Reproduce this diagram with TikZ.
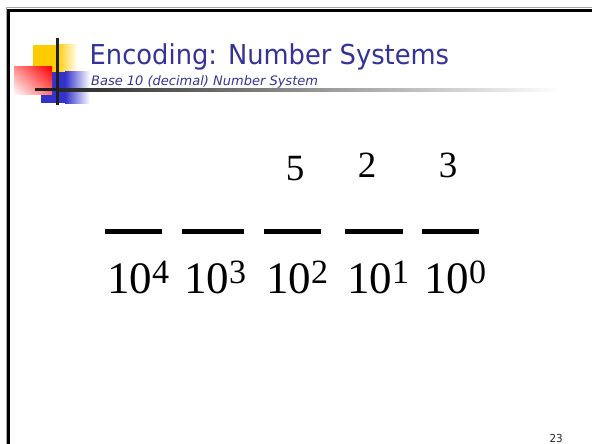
\documentclass[tikz,border=0pt]{standalone}
\usepackage{fontspec}
\setmainfont{Liberation Serif}
\setsansfont{DejaVu Sans}
\newfontfamily\slidefont[FakeStretch=0.94]{DejaVu Sans}
\usetikzlibrary{positioning,shadings}
\definecolor{titleblue}{RGB}{51,51,153}
\definecolor{logoyellow}{RGB}{255,204,0}
\definecolor{logoblue}{RGB}{51,51,204}
\pgfkeys{tikz/myblank/.style={fill=black,inner sep=0pt,minimum height=5pt}}
\pgfkeys{tikz/mydigit/.style={anchor=base,inner sep=0pt,font=\fontsize{37pt}{37pt}\selectfont}}
\pgfkeys{tikz/mypower/.style={anchor=base west,inner sep=0pt,font=\fontsize{45pt}{45pt}\selectfont}}
\newcommand*\tenpow[1]{10\raisebox{10pt}{\fontsize{34pt}{34pt}\selectfont #1}}

\begin{document}
\begin{tikzpicture}[x=1pt,y=-1pt]
\useasboundingbox[fill=white] (0,0) rectangle (592,444);

% frame
\draw[black!35, line width=1pt] (6.5,444) -- (6.5,7.5) -- (592,7.5);
\draw[line width=3pt] (8.5,444) -- (8.5,10.5) -- (592,10.5);

% logo
\fill[logoyellow] (33,45) rectangle (57,72);
\shade[left color=logoyellow, right color=white] (57,45) rectangle (78,72);
\fill[logoblue] (41,72) rectangle (65,103);
\shade[left color=logoblue, right color=white] (65,72) rectangle (90,103);
\shade[upper left=red!45, upper right=red, lower left=white, lower right=red!55] (14,67) rectangle (52,95);
\fill[black!88] (35,88.5) rectangle (57,91.5);
\shade[left color=black!85, right color=white] (57,88.5) rectangle (560,91.5);
\draw[black!88, line width=3pt] (57,38) -- (57,105);

% title
\node[anchor=base west, inner sep=0pt, text=titleblue,
  font=\slidefont\fontsize{27.4pt}{30pt}\selectfont] (title) at (89.5,65) {Encoding: Number Systems};
\node[anchor=base west, inner sep=0pt, text=titleblue,
  font=\sffamily\itshape\fontsize{13pt}{15pt}\selectfont] (subtitle) at (91,85) {Base 10 (decimal) Number System};

% blanks and place values
\foreach \e/\l/\r in {4/105/162, 3/182/244, 2/264/321, 1/345/403, 0/422/479} {
  \node[myblank, minimum width=\r pt-\l pt] (b\e) at ({(\l+\r)/2},231) {};
  \node[mypower] (p\e) at (\l+2,293) {\tenpow{\e}};
}

% digits
\node[mydigit] (d2) at (295,180) {5};
\node[mydigit] (d1) at (367,177) {2};
\node[mydigit] (d0) at (448,177) {3};

\node[anchor=base east, inner sep=0pt, text=black!85,
  font=\slidefont\fontsize{11pt}{12pt}\selectfont] (pagenum) at (563,442) {23};
\end{tikzpicture}
\end{document}
